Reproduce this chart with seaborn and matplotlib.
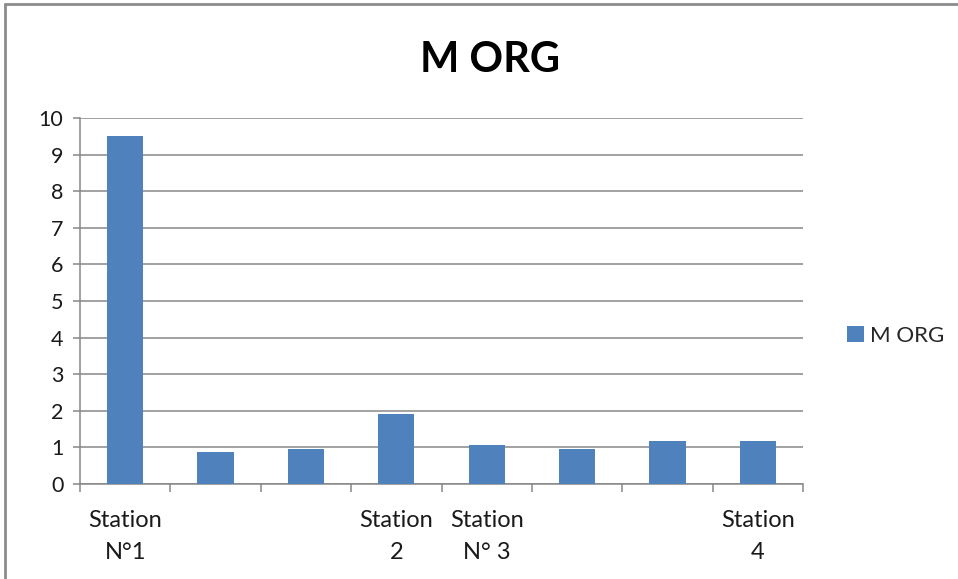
import matplotlib
matplotlib.use("Agg")
import matplotlib.pyplot as plt
import matplotlib.lines as mlines
import matplotlib.patches as mpatches
import seaborn as sns
import pandas as pd

# Organic matter (M ORG) per sampling point
samples = ["1", "2", "3", "4", "5", "6", "7", "8"]
tick_labels = ["Station\nN°1", "", "", "Station\n2", "Station\nN° 3", "", "", "Station\n4"]
m_org = [9.52, 0.87, 0.96, 1.90, 1.07, 0.96, 1.17, 1.17]
y_ticks = [0, 1, 2, 3, 4, 5, 6, 7, 8, 9, 10]
series_name = "M ORG"

bar_color = "#4F81BD"
grid_color = "#878787"
font = ["Lato", "DejaVu Sans"]

sns.set_theme(style="white")
plt.rcParams["font.family"] = font
plt.rcParams["xtick.bottom"] = True
plt.rcParams["ytick.left"] = True

df = pd.DataFrame({"sample": samples, "value": m_org})

fig = plt.figure(figsize=(9.58, 5.79), dpi=100)
ax = fig.add_axes([80 / 958, 1 - 484 / 579, (803 - 80) / 958, (484 - 118) / 579])

sns.barplot(data=df, x="sample", y="value", order=samples, color=bar_color,
            width=0.4, saturation=1, ax=ax, zorder=3)
for p in ax.patches:
    p.set_edgecolor("none")

ax.set_ylim(0, 10)
ax.set_xlim(-0.5, len(samples) - 0.5)
ax.set_yticks(y_ticks)
ax.set_yticklabels([str(t) for t in y_ticks], fontsize=15.5, color="#1a1a1a")
ax.yaxis.grid(True, color=grid_color, linewidth=1.1, zorder=0)
ax.set_axisbelow(True)

# category labels under bars, boundary ticks between categories
ax.set_xticks(range(len(samples)))
ax.set_xticklabels(tick_labels, fontsize=17, color="#1a1a1a", linespacing=1.6)
ax.tick_params(axis="x", which="major", length=0, pad=19)
ax.set_xticks([i - 0.5 for i in range(len(samples) + 1)], minor=True)
ax.tick_params(axis="x", which="minor", bottom=True, length=6, width=1.1,
               color=grid_color, direction="out")
ax.tick_params(axis="y", which="major", left=True, length=5, width=1.1,
               color=grid_color, direction="out", pad=7)

ax.set_xlabel("")
ax.set_ylabel("")
for side in ["top", "right"]:
    ax.spines[side].set_visible(False)
for side in ["left", "bottom"]:
    ax.spines[side].set_color(grid_color)
    ax.spines[side].set_linewidth(1.1)

fig.text(490 / 958, 1 - 60 / 579, "M ORG", ha="center", va="center",
         fontsize=30, fontweight="bold", color="black")

handle = mpatches.Patch(facecolor=bar_color, edgecolor="none", label=series_name)
fig.legend(handles=[handle], loc="center left", bbox_to_anchor=(847 / 958, 1 - 336 / 579),
           frameon=False, fontsize=16, handlelength=0.75, handleheight=0.75,
           handletextpad=0.3, borderaxespad=0, borderpad=0)

# outer frame edges
fig.add_artist(mlines.Line2D([5 / 958, 5 / 958], [0, 1 - 4 / 579], color="#8c8c8c", linewidth=2,
                             transform=fig.transFigure))
fig.add_artist(mlines.Line2D([5 / 958, 1], [1 - 4 / 579, 1 - 4 / 579], color="#8c8c8c", linewidth=2,
                             transform=fig.transFigure))

fig.savefig("out.png", dpi=100, facecolor="white")
